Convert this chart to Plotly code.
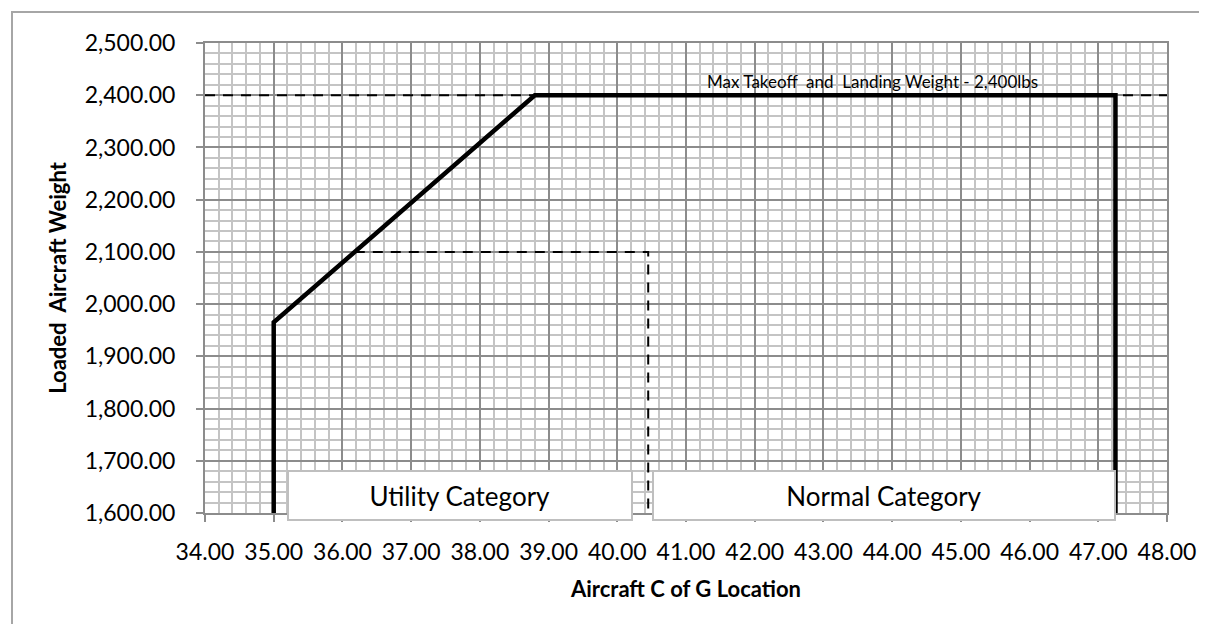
import plotly.graph_objects as go

# ---- data ----
envelope_cg = [35.0, 35.0, 38.8, 47.25, 47.25]
envelope_wt = [1600, 1965, 2400, 2400, 1600]
max_weight_cg = [34.0, 48.0]
max_weight_wt = [2400, 2400]
utility_cg = [36.18, 40.45, 40.45]
utility_wt = [2100, 2100, 1600]
category_labels = ["Utility Category", "Normal Category"]
category_cg_spans = [(35.2, 40.23), (40.5, 47.25)]
max_label = "Max Takeoff  and  Landing Weight - 2,400lbs"

X_RANGE = [34, 48]
Y_RANGE = [1600, 2500]

W, H = 1207, 624
ML, MR, MT, MB = 197, 48, 35, 119
PW = W - ML - MR
PH = H - MT - MB
px_per_x = PW / (X_RANGE[1] - X_RANGE[0])
px_per_y = PH / (Y_RANGE[1] - Y_RANGE[0])

FONT = "Lato"

fig = go.Figure()
fig.add_trace(go.Scatter(x=max_weight_cg, y=max_weight_wt, mode="lines",
                         line=dict(color="black", width=2, dash="10px,8px"),
                         hoverinfo="skip", showlegend=False))
fig.add_trace(go.Scatter(x=utility_cg, y=utility_wt, mode="lines",
                         line=dict(color="black", width=2, dash="10px,8px"),
                         hoverinfo="skip", showlegend=False))
fig.add_trace(go.Scatter(x=envelope_cg, y=envelope_wt, mode="lines",
                         line=dict(color="black", width=4.5),
                         hoverinfo="skip", showlegend=False))

# category boxes (annotations so they can overhang the axis)
box_h = 47
box_top_px = 463
box_center_px = box_top_px + box_h / 2 + 1
box_center_y = Y_RANGE[0] + (H - MB - box_center_px) / px_per_y
for label, (c0, c1) in zip(category_labels, category_cg_spans):
    fig.add_annotation(x=(c0 + c1) / 2, y=box_center_y, xref="x", yref="y",
                       text=label, showarrow=False,
                       width=(c1 - c0) * px_per_x - 4, height=box_h,
                       bgcolor="white", bordercolor="#bfbfbf", borderwidth=2,
                       borderpad=0, align="center", valign="middle",
                       font=dict(family=FONT, size=26, color="black"))

fig.add_annotation(x=43.72, y=2400, xref="x", yref="y", text=max_label,
                   showarrow=False, yanchor="bottom", yshift=1,
                   font=dict(family=FONT, size=17, color="black"))

# outer chart border
def px_to_paper_x(px):
    return (px - ML) / PW

def px_to_paper_y(py):
    return (H - MB - py) / PH

fig.add_shape(type="rect", xref="paper", yref="paper",
              x0=px_to_paper_x(4), x1=px_to_paper_x(1201),
              y0=px_to_paper_y(640), y1=px_to_paper_y(4),
              line=dict(color="#a6a6a6", width=2), fillcolor="rgba(0,0,0,0)",
              layer="below")

axis_common = dict(
    showline=True, linecolor="#8c8c8c", linewidth=2, mirror=True,
    showgrid=True, gridcolor="#8c8c8c", gridwidth=1.5,
    ticks="outside", ticklen=7, tickcolor="#8c8c8c", tickwidth=2,
    zeroline=False,
    tickfont=dict(family=FONT, size=23, color="black"),
)

fig.update_xaxes(range=X_RANGE, dtick=1, tick0=34, tickformat=".2f",
                 minor=dict(dtick=0.2, showgrid=True, gridcolor="#c4c4c4", gridwidth=1.5),
                 title=dict(text="<b>Aircraft C of G Location</b>",
                            font=dict(family=FONT, size=22, color="black"), standoff=18),
                 ticklabelstandoff=10,
                 **axis_common)
fig.update_yaxes(range=Y_RANGE, dtick=100, tick0=1600, tickformat=",.2f",
                 minor=dict(dtick=20, showgrid=True, gridcolor="#c4c4c4", gridwidth=1.5),
                 title=dict(text="<b>Loaded  Aircraft Weight</b>",
                            font=dict(family=FONT, size=22, color="black"), standoff=12),
                 ticklabelstandoff=16,
                 **axis_common)

fig.update_layout(width=W, height=H, margin=dict(l=ML, r=MR, t=MT, b=MB, autoexpand=False),
                  plot_bgcolor="white", paper_bgcolor="white",
                  font=dict(family=FONT))

fig.write_html("out.html")
